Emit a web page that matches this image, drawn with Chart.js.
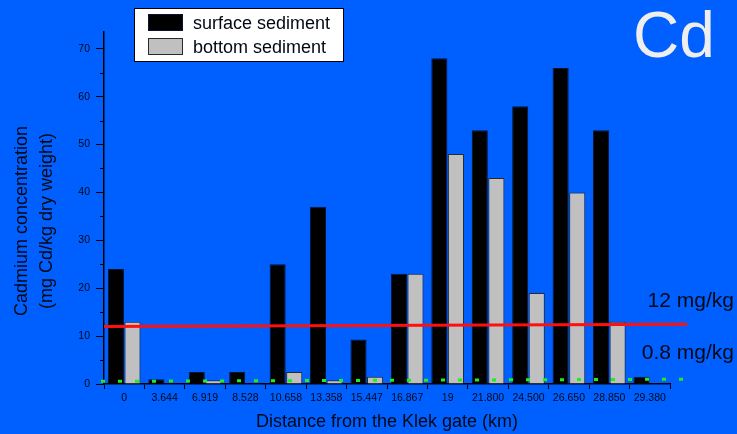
<!DOCTYPE html>
<html>
<head>
<meta charset="utf-8">
<script src="https://cdn.jsdelivr.net/npm/chart.js@4.4.0/dist/chart.umd.min.js"></script>
<style>
  html, body { margin: 0; padding: 0; background: #0060ff; }
  canvas { display: block; }
</style>
</head>
<body>
<canvas id="cdChart" width="737" height="434"></canvas>
<script>
// sampling stations, distance from the Klek gate (km)
const distances = ['0', '3.644', '6.919', '8.528', '10.658', '13.358', '15.447',
                   '16.867', '19', '21.800', '24.500', '26.650', '28.850', '29.380'];
// Cd, mg/kg dry weight
const surfaceCd = [24, 1, 2.5, 2.5, 25, 37, 9.3, 23, 68, 53, 58, 66, 53, 1.5];
const bottomCd  = [13, null, 0.8, null, 2.5, 0.8, 1.5, 23, 48, 43, 19, 40, 13, null];

// limit lines (drawn slightly sloped, as in the original plot)
const limitHigh = [12, 12.5];    // 12 mg/kg
const limitLow  = [0.55, 1.0];   // 0.8 mg/kg
const limitLabels = ['12 mg/kg', '0.8 mg/kg'];
const yTitle = ['Cadmium concentration', '(mg Cd/kg dry weight)'];

const FONT = '"Liberation Sans", Arial, Helvetica, sans-serif';
const INK = '#000814';

Chart.defaults.font.family = FONT;
Chart.defaults.color = INK;

// limit lines, their labels, y title, minor y ticks, the legend box and the "Cd" tag
const decorations = {
  id: 'decorations',
  afterDatasetsDraw(chart) {
    const { ctx, chartArea: a, scales: { y } } = chart;
    ctx.save();

    // 12 mg/kg
    ctx.strokeStyle = '#ff1010';
    ctx.lineWidth = 3;
    ctx.beginPath();
    ctx.moveTo(a.left, y.getPixelForValue(limitHigh[0]));
    ctx.lineTo(a.right + 17, y.getPixelForValue(limitHigh[1]));
    ctx.stroke();

    // 0.8 mg/kg, dotted
    ctx.strokeStyle = '#1cf01c';
    ctx.lineWidth = 3;
    ctx.setLineDash([4, 13]);
    ctx.beginPath();
    ctx.moveTo(a.left - 3, y.getPixelForValue(limitLow[0]));
    ctx.lineTo(a.right + 14, y.getPixelForValue(limitLow[1]));
    ctx.stroke();
    ctx.setLineDash([]);

    ctx.restore();
  },
  afterDraw(chart) {
    const { ctx, chartArea: a, scales: { y } } = chart;
    ctx.save();

    // minor ticks on y
    ctx.strokeStyle = '#000';
    ctx.lineWidth = 1;
    for (let v = 5; v <= 70; v += 10) {
      const py = Math.round(y.getPixelForValue(v)) + 0.5;
      ctx.beginPath();
      ctx.moveTo(a.left - 4, py);
      ctx.lineTo(a.left, py);
      ctx.stroke();
    }

    // y title, two lines, rotated
    ctx.save();
    ctx.translate(0, 221);
    ctx.rotate(-Math.PI / 2);
    ctx.fillStyle = INK;
    ctx.font = '18px ' + FONT;
    ctx.textAlign = 'center';
    ctx.textBaseline = 'middle';
    ctx.fillText(yTitle[0], 0, 22);
    ctx.fillText(yTitle[1], 0, 47);
    ctx.restore();

    // limit labels
    ctx.fillStyle = INK;
    ctx.font = '21px ' + FONT;
    ctx.textAlign = 'right';
    ctx.textBaseline = 'alphabetic';
    ctx.fillText(limitLabels[0], 734, 307);
    ctx.fillText(limitLabels[1], 734, 359);

    // element tag
    ctx.fillStyle = '#eeeeee';
    ctx.font = '64px ' + FONT;
    ctx.textAlign = 'left';
    ctx.fillText('Cd', 633, 57);

    // legend
    ctx.fillStyle = '#ffffff';
    ctx.fillRect(134, 8, 209, 53);
    ctx.strokeStyle = '#000';
    ctx.lineWidth = 1;
    ctx.strokeRect(134.5, 8.5, 209, 53);
    ctx.font = '18px ' + FONT;
    chart.data.datasets.forEach((ds, i) => {
      const top = 14 + i * 24;
      ctx.fillStyle = ds.backgroundColor;
      ctx.fillRect(148, top, 35, 17);
      ctx.strokeStyle = ds.borderColor;
      ctx.strokeRect(148.5, top + 0.5, 34, 16);
      ctx.fillStyle = INK;
      ctx.textBaseline = 'alphabetic';
      ctx.fillText(ds.label, 193, top + 15);
    });

    ctx.restore();
  }
};

new Chart(document.getElementById('cdChart'), {
  type: 'bar',
  data: {
    labels: distances,
    datasets: [
      { label: 'surface sediment', data: surfaceCd, backgroundColor: '#000000',
        borderColor: '#0a1430', borderWidth: 1 },
      { label: 'bottom sediment', data: bottomCd, backgroundColor: '#c0c0c0',
        borderColor: '#2a2a2a', borderWidth: 1 }
    ]
  },
  options: {
    responsive: false,
    animation: false,
    layout: { padding: { top: 32, right: 67, left: 0, bottom: 0 } },
    datasets: { bar: { categoryPercentage: 0.82, barPercentage: 0.97 } },
    plugins: { legend: { display: false }, tooltip: { enabled: false } },
    scales: {
      x: {
        offset: true,
        afterFit: s => { s.height = 50; },
        grid: { offset: true, drawOnChartArea: false, tickLength: 5, color: '#000', tickColor: '#000' },
        border: { display: true, color: '#000', width: 1.5 },
        ticks: { font: { size: 10.5 }, padding: 3, maxRotation: 0, autoSkip: false },
        title: { display: true, text: 'Distance from the Klek gate (km)',
                 font: { size: 18, lineHeight: 1.2 }, padding: { top: 0, bottom: 1 } }
      },
      y: {
        min: 0,
        max: 73.5,
        afterFit: s => { s.width = 104; },
        afterBuildTicks: s => { s.ticks = s.ticks.filter(t => t.value % 5 === 0 && t.value <= 70); },
        grid: {
          drawOnChartArea: false, tickLength: 8,
          tickColor: c => (c.tick && c.tick.value % 10 === 0) ? '#000' : 'rgba(0,0,0,0)'
        },
        border: { display: true, color: '#000', width: 1.5 },
        ticks: {
          stepSize: 5, padding: 6, font: { size: 10.5 },
          callback: v => (v % 10 === 0 ? v : '')
        }
      }
    }
  },
  plugins: [decorations]
});
</script>
</body>
</html>
